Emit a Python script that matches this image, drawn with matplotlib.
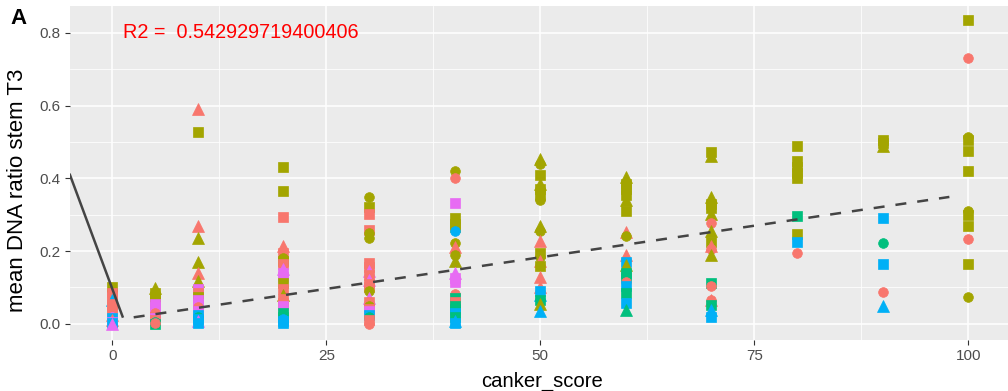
import matplotlib
matplotlib.use("Agg")
import matplotlib.pyplot as plt

plt.rcParams['font.family'] = ['Liberation Sans', 'DejaVu Sans']

# ---------------- data ----------------
# colour groups: a..e ; shape groups: c=circle, t=triangle, s=square
score = []
ratio = []
cgroup = []
sgroup = []

def add(x, pts):
    for v, c, s in pts:
        score.append(x); ratio.append(v); cgroup.append(c); sgroup.append(s)

col_0 = [(0.100,'b','s'),(0.092,'b','c'),(0.085,'a','s'),(0.075,'a','s'),(0.065,'d','t'),
         (0.055,'a','s'),(0.045,'a','s'),(0.035,'a','s'),(0.025,'a','t'),(0.020,'e','c'),
         (0.015,'d','s'),(0.010,'a','t'),(0.005,'e','s'),(0.002,'d','s'),(0.000,'e','t')]
col_5 = [(0.098,'b','t'),(0.085,'b','s'),(0.075,'b','s'),(0.060,'b','s'),(0.055,'e','s'),
         (0.045,'e','s'),(0.035,'e','s'),(0.030,'a','c'),(0.020,'a','s'),(0.015,'e','s'),
         (0.010,'a','s'),(0.005,'c','c'),(0.000,'c','s'),(0.003,'a','c')]
col_10 = [(0.590,'a','t'),(0.528,'b','s'),(0.268,'a','t'),(0.235,'b','t'),(0.170,'b','t'),
          (0.140,'a','t'),(0.118,'b','t'),(0.095,'e','s'),(0.085,'a','s'),(0.075,'b','s'),
          (0.065,'e','s'),(0.055,'e','s'),(0.045,'a','c'),(0.035,'e','s'),(0.025,'d','s'),
          (0.020,'c','c'),(0.012,'d','s'),(0.008,'e','t'),(0.003,'d','s')]
col_20 = [(0.432,'b','s'),(0.366,'b','s'),(0.294,'a','s'),(0.215,'a','t'),(0.195,'a','s'),
          (0.180,'b','c'),(0.172,'b','s'),(0.165,'a','s'),(0.150,'e','t'),(0.140,'e','s'),
          (0.128,'e','s'),(0.113,'b','s'),(0.095,'a','s'),(0.080,'b','t'),(0.068,'a','s'),
          (0.058,'a','s'),(0.048,'e','s'),(0.030,'c','s'),(0.020,'c','s'),(0.012,'d','c'),
          (0.008,'d','s'),(0.003,'d','s')]
col_30 = [(0.350,'b','c'),(0.322,'b','s'),(0.302,'a','s'),(0.258,'a','s'),(0.250,'b','c'),
          (0.235,'b','c'),(0.168,'a','s'),(0.155,'a','s'),(0.145,'e','t'),(0.135,'a','s'),
          (0.120,'e','t'),(0.110,'a','s'),(0.100,'a','s'),(0.090,'b','c'),(0.072,'e','t'),
          (0.060,'a','s'),(0.050,'b','c'),(0.040,'a','s'),(0.035,'e','s'),(0.025,'d','s'),
          (0.018,'c','c'),(0.010,'a','s'),(0.000,'a','c')]
col_40 = [(0.420,'b','c'),(0.400,'a','c'),(0.333,'e','s'),(0.290,'b','s'),(0.275,'b','s'),
          (0.265,'b','s'),(0.255,'d','c'),(0.222,'b','c'),(0.210,'a','t'),(0.190,'b','c'),
          (0.172,'b','t'),(0.140,'e','t'),(0.125,'e','s'),(0.115,'e','s'),(0.082,'a','c'),
          (0.070,'c','s'),(0.060,'a','s'),(0.050,'c','s'),(0.040,'c','s'),(0.030,'d','s'),
          (0.020,'c','s'),(0.008,'d','t'),(0.003,'d','s')]
col_50 = [(0.452,'b','t'),(0.440,'b','c'),(0.410,'b','s'),(0.385,'b','t'),(0.370,'b','s'),
          (0.355,'b','s'),(0.340,'b','c'),(0.268,'b','t'),(0.255,'b','c'),(0.228,'a','t'),
          (0.196,'b','s'),(0.185,'b','c'),(0.172,'a','t'),(0.160,'b','s'),(0.128,'a','t'),
          (0.100,'a','t'),(0.090,'d','s'),(0.080,'d','t'),(0.066,'c','s'),(0.055,'b','t'),
          (0.034,'d','t')]
col_60 = [(0.405,'b','t'),(0.385,'b','s'),(0.370,'b','s'),(0.355,'b','s'),(0.340,'b','t'),
          (0.310,'b','s'),(0.252,'a','t'),(0.242,'b','c'),(0.188,'a','t'),(0.170,'d','s'),
          (0.163,'b','t'),(0.140,'c','s'),(0.130,'c','s'),(0.115,'a','c'),(0.105,'d','s'),
          (0.085,'c','s'),(0.058,'d','s'),(0.038,'c','t')]
col_70 = [(0.473,'b','s'),(0.462,'b','t'),(0.348,'b','t'),(0.330,'b','s'),(0.318,'b','s'),
          (0.302,'b','t'),(0.277,'a','c'),(0.256,'b','t'),(0.226,'b','s'),(0.215,'a','t'),
          (0.205,'a','c'),(0.188,'b','t'),(0.113,'c','s'),(0.105,'a','c'),(0.066,'a','t'),
          (0.066,'a','c'),(0.052,'c','s'),(0.038,'d','t'),(0.020,'d','s')]
col_80 = [(0.488,'b','s'),(0.448,'b','s'),(0.430,'b','s'),(0.415,'b','s'),(0.400,'b','s'),
          (0.297,'c','s'),(0.246,'b','s'),(0.225,'d','s'),(0.194,'a','c')]
col_90 = [(0.505,'b','s'),(0.497,'b','s'),(0.490,'b','t'),(0.291,'d','s'),(0.223,'c','c'),
          (0.164,'d','s'),(0.087,'a','c'),(0.048,'d','t')]
col_100 = [(0.835,'b','s'),(0.730,'a','c'),(0.515,'b','c'),(0.505,'b','s'),(0.475,'b','s'),
           (0.420,'b','s'),(0.310,'b','c'),(0.300,'b','s'),(0.270,'b','s'),(0.232,'a','c'),
           (0.164,'b','s'),(0.073,'b','c')]

for x, pts in [(0, col_0), (5, col_5), (10, col_10), (20, col_20), (30, col_30),
               (40, col_40), (50, col_50), (60, col_60), (70, col_70), (80, col_80),
               (90, col_90), (100, col_100)]:
    add(x, pts)

# fitted (dashed) line and the solid segment
fit_x = [2.5, 97.8]
fit_y = [0.018, 0.349]
seg_x = [-5.0, 1.25]
seg_y = [0.413, 0.017]

r2_label = "R2 =  0.542929719400406"

x_ticks = [0, 25, 50, 75, 100]
y_ticks = [0.0, 0.2, 0.4, 0.6, 0.8]

# ---------------- styling ----------------
palette = {'a': '#F8766D', 'b': '#A3A500', 'c': '#00BF7D', 'd': '#00B0F6', 'e': '#E76BF3'}
markers = {'c': ('o', 7.0), 't': ('^', 8.0), 's': ('s', 7.0)}

fig = plt.figure(figsize=(10.08, 3.91), dpi=100)
ax = fig.add_axes([69.5/1008, 1 - 339.5/391, (1011 - 69.5)/1008, (339.5 - 6)/391])
ax.set_facecolor('#EBEBEB')
ax.set_xlim(-5, 105)
ax.set_ylim(-0.043, 0.874)

for v in [12.5, 37.5, 62.5, 87.5]:
    ax.axvline(v, color='white', lw=0.55, zorder=0.5)
for v in [0.1, 0.3, 0.5, 0.7]:
    ax.axhline(v, color='white', lw=0.55, zorder=0.5)
for v in x_ticks:
    ax.axvline(v, color='white', lw=1.1, zorder=0.6)
for v in y_ticks:
    ax.axhline(v, color='white', lw=1.1, zorder=0.6)

for i in range(len(score)):
    m, ms = markers[sgroup[i]]
    col = palette[cgroup[i]]
    ax.plot(score[i], ratio[i], linestyle='none', marker=m, ms=ms,
            mfc=col, mec=col, mew=0.5, zorder=2)

ax.plot(seg_x, seg_y, color='#444444', lw=1.8, zorder=3, solid_capstyle='butt')
dl, = ax.plot(fit_x, fit_y, color='#444444', lw=1.8, zorder=3, dash_capstyle='butt')
dl.set_dashes([4.4, 4.4])

ax.text(1.2, 0.8, r2_label, color='#FF0000', fontsize=14.3, ha='left', va='center')

for s in ax.spines.values():
    s.set_visible(False)
ax.set_xticks(x_ticks)
ax.set_xticklabels([str(t) for t in x_ticks])
ax.set_yticks(y_ticks)
ax.set_yticklabels([f"{t:.1f}" for t in y_ticks])
ax.tick_params(axis='both', colors='#333333', length=3.5, width=0.8,
               labelcolor='#4D4D4D', labelsize=11)
ax.tick_params(axis='x', pad=3)
ax.tick_params(axis='y', pad=3)

ax.set_xlabel('canker_score', fontsize=14.6, color='black')
ax.xaxis.set_label_coords((542 - 69.5) / 941.5, -(381 - 339.5) / 333.5)
ax.set_ylabel('mean DNA ratio stem T3', fontsize=16, color='black')
ax.yaxis.set_label_coords(-(69.5 - 18) / 941.5, (339.5 - 190) / 333.5)
ax.xaxis.label.set_va('center')
ax.yaxis.label.set_va('center')

fig.text(10/1008, 1 - 18/391, 'A', fontsize=16, fontweight='bold', ha='left', va='center')

fig.savefig('out.png', dpi=100)
